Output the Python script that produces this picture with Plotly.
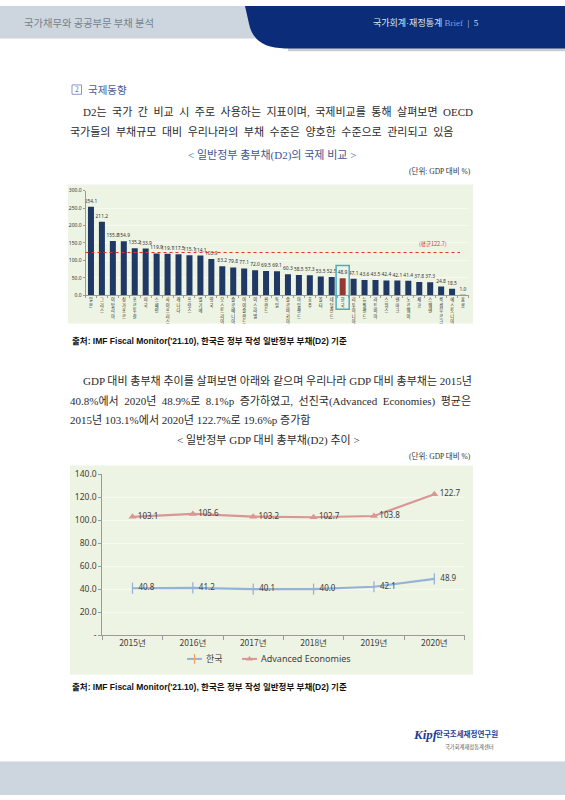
import plotly.graph_objects as go

W, H = 565, 800


def px(x):
    return x / W


def py(y):
    return 1 - y / H


# ---------------- data ----------------
countries = ["일본", "그리스", "이탈리아", "싱가포르", "포르투갈", "미국", "스페인", "사이프러스",
             "캐나다", "프랑스", "벨기에", "영국", "오스트리아", "슬로베니아", "아이슬란드", "이스라엘",
             "핀란드", "독일", "슬로바키아", "아일랜드", "호주", "몰타", "네덜란드", "한국",
             "리투아니아", "뉴질랜드", "라트비아", "스위스", "덴마크", "노르웨이", "체코", "스웨덴",
             "룩셈부르크", "에스토니아", "홍콩"]
debt_2020 = [254.1, 211.2, 155.8, 154.9, 135.2, 133.9, 119.9, 119.1, 117.5, 115.1, 114.1, 103.9,
             83.2, 79.8, 77.1, 72.0, 69.5, 69.1, 60.3, 58.5, 57.3, 53.5, 52.5, 48.9,
             47.1, 43.6, 43.5, 42.4, 42.1, 41.4, 37.8, 37.3, 24.8, 18.5, 1.0]
average_debt = 122.7
highlight_country = "한국"
y1_ticks = [0, 50, 100, 150, 200, 250, 300]

years = ["2015년", "2016년", "2017년", "2018년", "2019년", "2020년"]
korea_debt = [40.8, 41.2, 40.1, 40.0, 42.1, 48.9]
advanced_debt = [103.1, 105.6, 103.2, 102.7, 103.8, 122.7]
y2_ticks = [0, 20, 40, 60, 80, 100, 120, 140]
series_names = ["한국", "Advanced Economies"]

# ---------------- styles ----------------
NAVY_BAR = "#1f3864"
KOREA_BAR = "#953735"
CHART_BG = "#eef4e3"
GRID = "#f7faf1"
AXIS = "#9a9a9a"
KOREA_LINE = "#95b3d7"
AE_LINE = "#d99694"
LABEL = "#404040"
SANS = "Noto Sans, Noto Sans CJK KR, sans-serif"
KSANS = "Noto Sans CJK KR, sans-serif"
BODY = "Liberation Serif, Noto Sans CJK KR, serif"
HEADER_GREY = "#cdd6de"
HEADER_NAVY = "#0b2c78"
EN = "\u2002"

fig = go.Figure()

# ---- chart 1: bars ----
bar_colors = [KOREA_BAR if c == highlight_country else NAVY_BAR for c in countries]
fig.add_trace(go.Bar(
    x=countries, y=debt_2020, marker=dict(color=bar_colors, line=dict(width=0)),
    text=[f"{v:.1f}" for v in debt_2020], textposition="outside",
    textfont=dict(size=4.9, color="#333333", family=SANS), constraintext="none",
    cliponaxis=False, xaxis="x", yaxis="y", hoverinfo="skip", showlegend=False,
))

# ---- chart 2: lines ----
fig.add_trace(go.Scatter(
    x=years, y=korea_debt, mode="lines+markers+text", name=series_names[0],
    line=dict(color=KOREA_LINE, width=2.2),
    marker=dict(symbol="line-ns-open", size=8, color=KOREA_LINE, line=dict(color=KOREA_LINE, width=1.3)),
    text=[f"{v:.1f}" for v in korea_debt], textposition="middle right",
    textfont=dict(size=8, color=LABEL, family=SANS), cliponaxis=False,
    xaxis="x2", yaxis="y2", hoverinfo="skip", showlegend=False,
))
fig.add_trace(go.Scatter(
    x=years, y=advanced_debt, mode="lines+markers+text", name=series_names[1],
    line=dict(color=AE_LINE, width=2.2),
    marker=dict(symbol="triangle-up", size=7, color=AE_LINE),
    text=[f"{v:.1f}" for v in advanced_debt], textposition="middle right",
    textfont=dict(size=8, color=LABEL, family=SANS), cliponaxis=False,
    xaxis="x2", yaxis="y2", hoverinfo="skip", showlegend=False,
))

# ---- custom legend on a page-sized overlay axis ----
fig.add_trace(go.Scatter(x=[187, 202], y=[662, 662], mode="lines", line=dict(color=KOREA_LINE, width=2),
                         xaxis="x3", yaxis="y3", hoverinfo="skip", showlegend=False))
fig.add_trace(go.Scatter(x=[194.5], y=[662], mode="markers",
                         marker=dict(symbol="line-ns-open", size=7, line=dict(color=KOREA_LINE, width=1.3)),
                         xaxis="x3", yaxis="y3", hoverinfo="skip", showlegend=False))
fig.add_trace(go.Scatter(x=[242, 257], y=[662, 662], mode="lines", line=dict(color=AE_LINE, width=2),
                         xaxis="x3", yaxis="y3", hoverinfo="skip", showlegend=False))
fig.add_trace(go.Scatter(x=[249.5], y=[662], mode="markers",
                         marker=dict(symbol="triangle-up", size=6, color=AE_LINE),
                         xaxis="x3", yaxis="y3", hoverinfo="skip", showlegend=False))

# ---------------- shapes ----------------
navy_path = ("M {a},{b} L {c},{b} L {c},{d} L {e},{d} Q {f},{d} {g},{h} L {a},{b} Z").format(
    a=px(245), b=py(0), c=px(565), d=py(43), e=px(285), f=px(254), g=px(249), h=py(18))

shapes = [
    dict(type="rect", xref="paper", yref="paper", x0=0, x1=1, y0=py(33), y1=py(0),
         fillcolor=HEADER_GREY, line=dict(width=0), layer="below"),
    dict(type="rect", xref="paper", yref="paper", x0=px(288), x1=1, y0=py(46), y1=py(42),
         fillcolor="#c9ced6", line=dict(width=0), layer="below"),
    dict(type="path", xref="paper", yref="paper", path=navy_path,
         fillcolor=HEADER_NAVY, line=dict(width=0), layer="below"),
    dict(type="rect", xref="paper", yref="paper", x0=0, x1=1, y0=py(800), y1=py(766),
         fillcolor=HEADER_GREY, line=dict(width=0), layer="below"),
    # chart backgrounds
    dict(type="rect", xref="paper", yref="paper", x0=px(68), x1=px(473), y0=py(322), y1=py(181),
         fillcolor=CHART_BG, line=dict(width=0), layer="below"),
    dict(type="rect", xref="paper", yref="paper", x0=px(70), x1=px(473), y0=py(678), y1=py(466),
         fillcolor=CHART_BG, line=dict(width=0), layer="below"),
    # average line
    dict(type="line", xref="paper", yref="y", x0=px(85.5), x1=px(460), y0=average_debt, y1=average_debt,
         line=dict(color="#e0302a", width=1.2, dash="dot"), layer="above"),
    # highlight box around Korea
    dict(type="rect", xref="x", yref="paper", x0=countries.index(highlight_country) - 0.6,
         x1=countries.index(highlight_country) + 0.6, y0=py(307.5), y1=py(263),
         line=dict(color="#4bacc6", width=1.5), fillcolor="rgba(0,0,0,0)", layer="above"),
    # section number box
    dict(type="rect", xref="paper", yref="paper", x0=px(72), x1=px(81.5), y0=py(89.5), y1=py(80),
         line=dict(color="#6f7fb5", width=0.8), fillcolor="rgba(0,0,0,0)"),
]

# ---------------- annotations ----------------
ann = []


def text(x, y, s, size, color, xanchor="left", family=KSANS, yref="paper", yval=None, **kw):
    ann.append(dict(x=px(x), y=(py(y) if yval is None else yval), xref="paper", yref=yref, text=s,
                    showarrow=False, xanchor=xanchor, yanchor="middle",
                    font=dict(size=size, color=color, family=family), **kw))


def spread(s):
    return s.replace(" ", EN)


# header
text(22, 16.5, "국가채무와 공공부문 부채 분석", 10.3, "#74838f")
text(481, 16.5, "국가회계·재정통계 <span style='color:#7f9fe6'>Brief</span>  <span style='color:#c8d2e8'>|</span>  5",
     9, "#dde3ef", xanchor="right", family="Liberation Serif, Noto Sans CJK KR, serif")

# section and paragraph
text(76.8, 85, "2", 7.5, "#5a6aa6", xanchor="center", family=BODY)
text(86, 85, "국제동향", 10.5, "#4b5b95")
text(81, 107, spread("D2는 국가 간 비교 시 주로 사용하는 지표이며, 국제비교를 통해 살펴보면 OECD"), 11, "#2b2b2b", family=BODY)
text(68, 127.5, spread("국가들의 부채규모 대비 우리나라의 부채 수준은 양호한 수준으로 관리되고 있음"), 11, "#2b2b2b", family=BODY)
text(272, 151, "&lt; 일반정부 총부채(D2)의 국제 비교 &gt;", 11, "#3b5797", xanchor="center", family=BODY)
text(473, 167.5, "(단위: GDP 대비 %)", 7.5, "#333333", xanchor="right", family=BODY)

# chart 1 average label
text(433, 0, "(평균122.7)", 5.5, "#d0302a", xanchor="center", yref="y", yval=average_debt, yshift=9)

# source 1
text(70, 340, "<b>출처: IMF Fiscal Monitor('21.10), 한국은 정부 작성 일반정부 부채(D2) 기준</b>", 8.5, "#111111",
     family="Liberation Sans, Noto Sans CJK KR, sans-serif")

# paragraph 2
text(80.5, 380, "GDP 대비 총부채 추이를 살펴보면 아래와 같으며 우리나라 GDP 대비 총부채는 2015년", 11, "#2b2b2b", family=BODY)
text(68, 400, spread("40.8%에서 2020년 48.9%로 8.1%p 증가하였고, 선진국(Advanced Economies) 평균은"), 11, "#2b2b2b", family=BODY)
text(68, 419.5, "2015년 103.1%에서 2020년 122.7%로 19.6%p 증가함", 11, "#2b2b2b", family=BODY)
text(268, 440, "&lt; 일반정부 GDP 대비 총부채(D2) 추이 &gt;", 11, "#2b2b2b", xanchor="center", family=BODY)
text(473, 456.5, "(단위: GDP 대비 %)", 7.5, "#333333", xanchor="right", family=BODY)

# legend texts
text(204, 662, series_names[0], 9, LABEL, family=KSANS)
text(259, 662, series_names[1], 9, LABEL, family=SANS)

# source 2
text(70, 691, "<b>출처: IMF Fiscal Monitor('21.10), 한국은 정부 작성 일반정부 부채(D2) 기준</b>", 8.5, "#111111",
     family="Liberation Sans, Noto Sans CJK KR, sans-serif")

# footer logo
text(411, 739, "<b><i>Kipf</i></b>", 13, "#1c3f94", family="Liberation Serif, serif")
text(434, 738, "<b>한국조세재정연구원</b>", 7.5, "#1c3f94")
text(496, 751, "국가회계재정통계센터", 5.3, "#555555", xanchor="right")

# ---------------- layout ----------------
fig.update_layout(
    width=W, height=H, margin=dict(l=0, r=0, t=0, b=0, pad=0),
    paper_bgcolor="white", plot_bgcolor="rgba(0,0,0,0)", showlegend=False,
    bargap=0.45, shapes=shapes, annotations=ann,
    xaxis=dict(domain=[px(85.5), px(468.5)], anchor="y", type="category", range=[-0.5, len(countries) - 0.5],
               tickmode="array", tickvals=countries, ticktext=["<br>".join(c) for c in countries],
               tickangle=0, tickfont=dict(size=4.2, color="#222222", family=KSANS),
               ticks="outside", ticklen=2, tickcolor=AXIS, tickson="boundaries",
               showline=True, linecolor=AXIS, linewidth=0.8, showgrid=False, fixedrange=True),
    yaxis=dict(domain=[py(293.3), py(187.3)], anchor="x", range=[0, 300],
               tickmode="array", tickvals=y1_ticks, ticktext=[f"{v:.1f}" for v in y1_ticks],
               tickfont=dict(size=5, color="#333333", family=SANS),
               ticks="outside", ticklen=2, tickcolor=AXIS, showline=True, linecolor=AXIS, linewidth=0.8,
               showgrid=True, gridcolor=GRID, gridwidth=1, zeroline=False, fixedrange=True),
    xaxis2=dict(domain=[px(102.3), px(464.5)], anchor="y2", type="category", range=[-0.5, len(years) - 0.5],
                tickfont=dict(size=8.5, color=LABEL, family=KSANS), tickangle=0,
                ticks="outside", ticklen=4, tickcolor=AXIS, tickson="boundaries",
                showline=True, linecolor=AXIS, linewidth=1, showgrid=False, fixedrange=True),
    yaxis2=dict(domain=[py(637.8), py(475)], anchor="x2", range=[0, 140],
                tickmode="array", tickvals=y2_ticks,
                ticktext=["-" if v == 0 else f"{v:.1f}" for v in y2_ticks],
                tickfont=dict(size=8.5, color=LABEL, family=SANS),
                ticks="outside", ticklen=3, tickcolor=AXIS, showline=True, linecolor=AXIS, linewidth=1,
                showgrid=True, gridcolor=GRID, gridwidth=1, zeroline=False, fixedrange=True),
    xaxis3=dict(domain=[0, 1], range=[0, W], anchor="y3", visible=False, fixedrange=True),
    yaxis3=dict(domain=[0, 1], range=[H, 0], anchor="x3", visible=False, fixedrange=True),
)

fig.write_html("out.html", config={"displayModeBar": False},
               post_script="document.body.style.margin='0';")
